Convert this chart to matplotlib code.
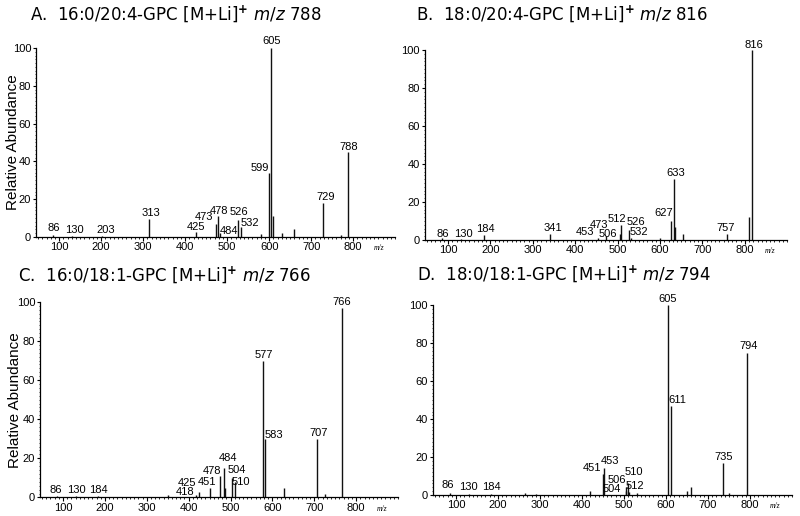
import matplotlib
matplotlib.use("Agg")
import matplotlib.pyplot as plt
from matplotlib.ticker import MultipleLocator

# --- Data: peak m/z and relative abundance ---
mz_a = [86, 130, 203, 313, 425, 473, 478, 484, 526, 532, 580, 599, 605, 609, 630, 660, 729, 770, 788]
ab_a = [1.2, 0.5, 0.5, 9.5, 2.5, 7, 11, 2, 9, 5, 1.5, 34, 100, 11, 2, 4, 18, 1, 45]
lab_a = [86, 130, 203, 313, 425, 473, 478, 484, 526, 532, 599, 605, 729, 788]

mz_b = [86, 130, 184, 341, 453, 473, 506, 508, 526, 532, 600, 627, 633, 636, 655, 757, 810, 816]
ab_b = [1, 0.5, 2.5, 3, 1, 2, 3, 8, 5, 1, 1, 10, 32, 7, 3, 3, 12, 100]
lab_b = [86, 130, 184, 341, 453, 473, 506, 512, 526, 532, 627, 633, 757, 816]

mz_c = [86, 130, 184, 350, 418, 425, 451, 476, 484, 486, 504, 511, 577, 583, 627, 707, 725, 766]
ab_c = [0.5, 0.5, 0.5, 1, 1, 3, 5, 11, 15, 5, 10, 8, 70, 30, 5, 30, 2, 97]
lab_c = [86, 130, 184, 418, 425, 451, 478, 484, 504, 510, 577, 583, 707, 766]

mz_d = [86, 130, 184, 265, 290, 420, 451, 453, 504, 506, 510, 512, 530, 605, 611, 650, 660, 735, 750, 794]
ab_d = [1, 0.5, 0.5, 1, 0.5, 2, 11, 14, 2, 4, 6, 1.5, 1, 100, 47, 2, 4, 17, 1, 75]
lab_d = [86, 130, 184, 451, 453, 504, 506, 510, 512, 605, 611, 735, 794]

titles = [
    r"A.  16:0/20:4-GPC [M+Li]$^{\mathbf{+}}$ $m/z$ 788",
    r"B.  18:0/20:4-GPC [M+Li]$^{\mathbf{+}}$ $m/z$ 816",
    r"C.  16:0/18:1-GPC [M+Li]$^{\mathbf{+}}$ $m/z$ 766",
    r"D.  18:0/18:1-GPC [M+Li]$^{\mathbf{+}}$ $m/z$ 794",
]

# --- Layout: where each peak label sits (x in m/z, bottom of text in %) ---
lpos_a = {86: (88, 2), 130: (137, 1.2), 203: (210, 1.2), 313: (319, 10), 425: (425, 2.6),
          473: (446, 7.7), 478: (480, 11.3), 484: (505, 0.5), 526: (529, 10.6), 532: (555, 4.8),
          599: (577, 34), 605: (605, 100.8), 729: (735, 18.3), 788: (789, 45)}
lpos_b = {86: (88, 0.4), 130: (137, 0.4), 184: (189, 3.2), 341: (346, 3.9), 453: (424, 1.4),
          473: (457, 5.3), 506: (477, 0.4), 512: (499, 8.4), 526: (542, 7), 532: (550, 1.4),
          627: (609, 11.4), 633: (637, 32.5), 757: (755, 3.9), 816: (821, 100)}
lpos_c = {86: (82, 1.4), 130: (132, 1.4), 184: (184, 1.4), 418: (391, 0.3), 425: (395, 4.8),
          451: (445, 5.1), 478: (455, 11.2), 484: (495, 17.5), 504: (515, 11.6), 510: (525, 5.5),
          577: (579, 70.5), 583: (603, 29.4), 707: (710, 30.3), 766: (766, 97.5)}
lpos_d = {86: (80, 2.6), 130: (130, 1.4), 184: (184, 1.4), 451: (425, 11.4), 453: (467, 15),
          504: (471, 0.4), 506: (483, 5.3), 510: (523, 9.2), 512: (527, 2.1), 605: (605, 101),
          611: (627, 47.5), 735: (738, 17.6), 794: (796, 75.7)}

# axes boxes in figure fractions (left, bottom, width, height)
boxes = [
    (0.045, 0.541, 0.449, 0.366),
    (0.531, 0.535, 0.453, 0.368),
    (0.050, 0.036, 0.4475, 0.379),
    (0.541, 0.041, 0.449, 0.367),
]
title_xy = [(0.037, 0.962), (0.520, 0.962), (0.022, 0.456), (0.521, 0.458)]
ylabel_x = {0: 13 / 800, 2: 15 / 800}

fig = plt.figure(figsize=(8, 5.16), dpi=100)
tick_font = "Liberation Sans"

panels = [(mz_a, ab_a, lab_a, lpos_a), (mz_b, ab_b, lab_b, lpos_b),
          (mz_c, ab_c, lab_c, lpos_c), (mz_d, ab_d, lab_d, lpos_d)]

for i, (mz, ab, labs, lpos) in enumerate(panels):
    ax = fig.add_axes(boxes[i])
    ax.vlines(mz, 0, ab, color="#111111", linewidth=1.0)
    ax.set_xlim(45, 900)
    ax.set_ylim(0, 100)
    for s in ["top", "right"]:
        ax.spines[s].set_visible(False)
    ax.spines["left"].set_linewidth(0.9)
    ax.spines["bottom"].set_linewidth(0.9)
    ax.xaxis.set_major_locator(MultipleLocator(100))
    ax.xaxis.set_minor_locator(MultipleLocator(10))
    ax.yaxis.set_major_locator(MultipleLocator(20))
    ax.yaxis.set_minor_locator(MultipleLocator(2))
    ax.tick_params(axis="x", which="major", direction="out", length=3, width=0.8, pad=1)
    ax.tick_params(axis="x", which="minor", direction="out", length=1.5, width=0.6)
    ax.tick_params(axis="y", which="major", direction="out", length=2, width=0.8, pad=1.5)
    ax.tick_params(axis="y", which="minor", direction="out", length=1, width=0.5)
    ax.set_xticks(range(100, 801, 100))
    for t in ax.get_xticklabels() + ax.get_yticklabels():
        t.set_fontfamily(tick_font)
        t.set_fontsize(8)
    for m in labs:
        x, y = lpos[m]
        ax.text(x, y, str(m), ha="center", va="bottom", fontsize=8,
                family=tick_font, clip_on=False)
    ax.annotate("m/z", xy=(848, 0), xycoords=("data", "axes fraction"),
                xytext=(0, -8), textcoords="offset points", ha="left", va="center",
                fontsize=5.5, style="italic", family="Liberation Serif")
    if i in ylabel_x:
        fig.text(ylabel_x[i], boxes[i][1] + boxes[i][3] / 2, "Relative Abundance",
                 rotation=90, ha="center", va="center", fontsize=11, family=tick_font)
    fig.text(title_xy[i][0], title_xy[i][1], titles[i], fontsize=12,
             family="DejaVu Sans", ha="left", va="baseline")

fig.savefig("out.png", dpi=100)
